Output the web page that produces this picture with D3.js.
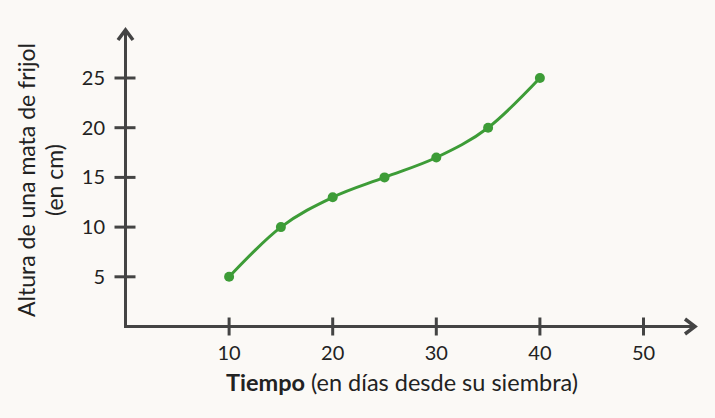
<!DOCTYPE html>
<html>
<head>
<meta charset="utf-8">
<script src="https://cdn.jsdelivr.net/npm/d3@7"></script>
<style>
  body { margin: 0; background: #fbf9f6; }
  svg { display: block; font-family: "Lato", "Open Sans", sans-serif; }
</style>
</head>
<body>
<div id="chart"></div>
<script>
////////// DATA //////////

var days = [10, 15, 20, 25, 30, 35, 40];
var heights = [5, 10, 13, 15, 17, 20, 25];
var xTicks = [10, 20, 30, 40, 50];
var yTicks = [5, 10, 15, 20, 25];

var data = days.map(function(d, i) { return { x: d, y: heights[i] }; });

////////// SETUP //////////

var width = 715, height = 418;
var axisColor = "#444444";
var green = "#3d9c37";

var x = d3.scaleLinear().domain([0, 50]).range([125.5, 643.5]);
var y = d3.scaleLinear().domain([0, 25]).range([326.5, 78]);

var svg = d3.select("#chart")
  .append("svg")
  .attr("width", width)
  .attr("height", height);

svg.append("rect")
  .attr("width", width)
  .attr("height", height)
  .attr("fill", "#fbf9f6");

////////// AXES //////////

var axes = svg.append("g")
  .attr("stroke", axisColor)
  .attr("stroke-width", 3)
  .attr("fill", "none");

// x axis line
axes.append("line")
  .attr("x1", x(0) - 1.5).attr("x2", 693)
  .attr("y1", y(0)).attr("y2", y(0));

// y axis line
axes.append("line")
  .attr("x1", x(0)).attr("x2", x(0))
  .attr("y1", y(0)).attr("y2", 33);

// arrow heads
svg.append("path")
  .attr("d", "M685,319 L695,326.5 L685,334")
  .attr("fill", "none")
  .attr("stroke", axisColor)
  .attr("stroke-width", 3.5)
  .attr("stroke-linejoin", "miter");

svg.append("path")
  .attr("d", "M118,40 L125.5,30 L133,40")
  .attr("fill", "none")
  .attr("stroke", axisColor)
  .attr("stroke-width", 3.5)
  .attr("stroke-linejoin", "miter");

// ticks
axes.selectAll(".xtick")
  .data(xTicks)
  .enter()
  .append("line")
  .attr("x1", function(d) { return x(d); })
  .attr("x2", function(d) { return x(d); })
  .attr("y1", y(0) - 9)
  .attr("y2", y(0) + 9);

axes.selectAll(".ytick")
  .data(yTicks)
  .enter()
  .append("line")
  .attr("x1", x(0) - 11)
  .attr("x2", x(0) + 10)
  .attr("y1", function(d) { return y(d); })
  .attr("y2", function(d) { return y(d); });

// tick labels
svg.selectAll(".xlabel")
  .data(xTicks)
  .enter()
  .append("text")
  .attr("x", function(d) { return x(d); })
  .attr("y", 360)
  .attr("text-anchor", "middle")
  .attr("font-size", 20)
  .attr("fill", "#222")
  .text(function(d) { return d; });

svg.selectAll(".ylabel")
  .data(yTicks)
  .enter()
  .append("text")
  .attr("x", 105)
  .attr("y", function(d) { return y(d) + 7; })
  .attr("text-anchor", "end")
  .attr("font-size", 20)
  .attr("fill", "#222")
  .text(function(d) { return d; });

////////// TITLES //////////

var xTitle = svg.append("text")
  .attr("x", 402)
  .attr("y", 391)
  .attr("text-anchor", "middle")
  .attr("font-size", 23.5)
  .attr("fill", "#222");

xTitle.append("tspan").attr("font-weight", "bold").text("Tiempo");
xTitle.append("tspan").text(" (en días desde su siembra)");

var yTitle = svg.append("g")
  .attr("transform", "translate(0,180) rotate(-90)")
  .attr("font-size", 23)
  .attr("fill", "#222")
  .attr("text-anchor", "middle");

yTitle.append("text").attr("x", 0).attr("y", 35).text("Altura de una mata de frijol");
yTitle.append("text").attr("x", 0).attr("y", 63).text("(en cm)");

////////// LINE //////////

var line = d3.line()
  .x(function(d) { return x(d.x); })
  .y(function(d) { return y(d.y); })
  .curve(d3.curveMonotoneX);

svg.append("path")
  .datum(data)
  .attr("d", line)
  .attr("fill", "none")
  .attr("stroke", green)
  .attr("stroke-width", 3);

svg.selectAll(".dot")
  .data(data)
  .enter()
  .append("circle")
  .attr("cx", function(d) { return x(d.x); })
  .attr("cy", function(d) { return y(d.y); })
  .attr("r", 5)
  .attr("fill", green);
</script>
</body>
</html>
